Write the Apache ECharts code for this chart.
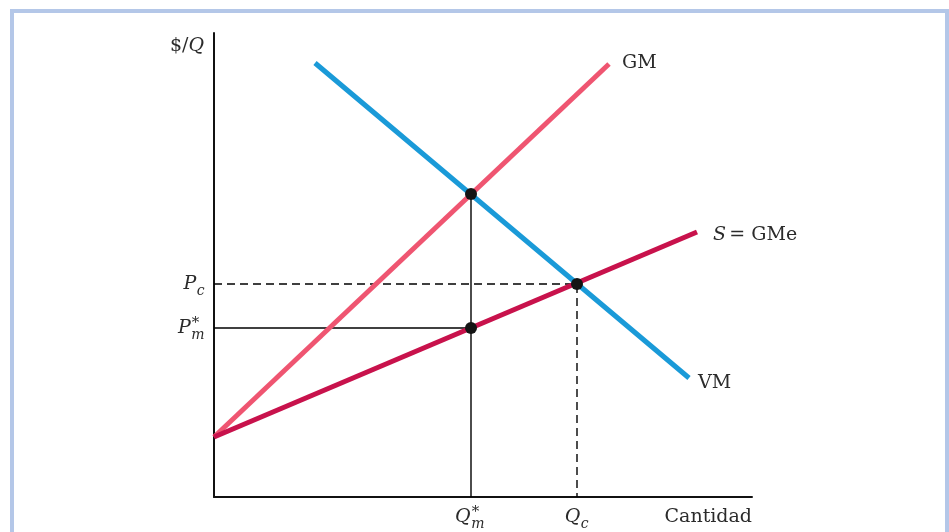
<!DOCTYPE html>
<html>
<head>
<meta charset="utf-8">
<script src="https://cdn.jsdelivr.net/npm/echarts@6/dist/echarts.min.js"></script>
<style>
html,body{margin:0;padding:0;background:#fff;}
#chart{width:949px;height:532px;}
</style>
</head>
<body>
<div id="chart"></div>
<script>
// ---- Data (axis units: quantity 0..538, price 0..464) ----
const xRange = [0, 538];
const yRange = [0, 464];
const gmLine = [[0, 60], [395, 433]];     // GM
const sLine = [[0, 60], [483, 265]];      // S = GMe
const vmLine = [[101, 434], [475, 119]];  // VM
const Qm = 257, Qc = 363;
const Pc = 213, Pm = 169, Pgm = 303;
const keyPoints = [[Qm, Pgm], [Qc, Pc], [Qm, Pm]];
const curveLabels = ['GM', 'S = GMe', 'VM'];
const axisTitles = ['$/Q', 'Cantidad'];

const FONT = '"DejaVu Serif", "Liberation Serif", serif';
const TXT = '#2b2b2b';
const FS = 19;

const chart = echarts.init(document.getElementById('chart'), null, {renderer: 'canvas'});

const lineBase = {type: 'line', symbol: 'none', silent: true, animation: false};
const option = {
  animation: false,
  backgroundColor: '#fff',
  grid: {left: 214, top: 33, width: 538, height: 464},
  xAxis: {type: 'value', min: xRange[0], max: xRange[1],
    axisLine: {show: true, lineStyle: {color: '#111', width: 2}},
    axisTick: {show: false}, axisLabel: {show: false}, splitLine: {show: false}},
  yAxis: {type: 'value', min: yRange[0], max: yRange[1],
    axisLine: {show: true, lineStyle: {color: '#111', width: 2}},
    axisTick: {show: false}, axisLabel: {show: false}, splitLine: {show: false}},
  series: [
    Object.assign({}, lineBase, {name: 'PcGuide', data: [[0, Pc], [Qc, Pc], [Qc, 0]],
      lineStyle: {color: '#000', width: 1.4, type: [8, 5]}, z: 1}),
    Object.assign({}, lineBase, {name: 'PmGuide', data: [[0, Pm], [Qm, Pm]],
      lineStyle: {color: '#000', width: 1.4}, z: 1}),
    Object.assign({}, lineBase, {name: 'QmGuide', data: [[Qm, Pgm], [Qm, 0]],
      lineStyle: {color: '#000', width: 1.4}, z: 1}),
    Object.assign({}, lineBase, {name: 'GM', data: gmLine,
      lineStyle: {color: '#ef5571', width: 5, cap: 'butt'}, z: 2}),
    Object.assign({}, lineBase, {name: 'S', data: sLine,
      lineStyle: {color: '#c8124c', width: 5, cap: 'butt'}, z: 3}),
    Object.assign({}, lineBase, {name: 'VM', data: vmLine,
      lineStyle: {color: '#1a9ad8', width: 5, cap: 'butt'}, z: 4}),
    {type: 'scatter', data: keyPoints, symbolSize: 12, silent: true, animation: false,
      itemStyle: {color: '#141414', opacity: 1}, z: 5}
  ]
};
chart.setOption(option);

// ---- Text labels placed through the chart's own scales ----
const mctx = document.createElement('canvas').getContext('2d');
function tw(t, size, it) { mctx.font = (it ? 'italic ' : '') + size + 'px ' + FONT; return mctx.measureText(t).width; }
function txt(x, y, t, size, it, align) {
  return {type: 'text', x: x, y: y, silent: true, z: 100,
    style: {text: t, fill: TXT, font: (it ? 'italic ' : '') + size + 'px ' + FONT,
      textAlign: align || 'left', textVerticalAlign: 'middle'}};
}
// math label: main letter with optional subscript / superscript
function mathLabel(x, y, main, sub, sup, align) {
  const mw = tw(main, FS, true);
  const sw = Math.max(sub ? tw(sub, 14, true) : 0, sup ? tw(sup, 15, false) : 0);
  const total = mw + sw + 1;
  let x0 = x;
  if (align === 'right') x0 = x - total;
  else if (align === 'center') x0 = x - total / 2;
  const els = [txt(x0, y, main, FS, true)];
  if (sub) els.push(txt(x0 + mw + 0.5, y + 7, sub, 14, true));
  if (sup) els.push(txt(x0 + mw + 1, y - 5, sup, 15, false));
  return els;
}

function px(p) { return chart.convertToPixel({gridIndex: 0}, p); }

const origin = px([0, 0]);
const topY = px([0, yRange[1]]);
const endX = px([xRange[1], 0]);
const gmEnd = px(gmLine[1]);
const sEnd = px(sLine[1]);
const vmEnd = px(vmLine[1]);
const pcPix = px([0, Pc]);
const pmPix = px([0, Pm]);
const qmPix = px([Qm, 0]);
const qcPix = px([Qc, 0]);

let els = [];
// frame
els.push({type: 'rect', shape: {x: 12, y: 11, width: 935, height: 600}, silent: true, z: 0,
  style: {fill: 'none', stroke: '#b4c7e8', lineWidth: 4}});
// axis titles
els.push({type: 'text', x: topY[0] - 10, y: topY[1] + 13, silent: true, z: 100,
  style: {rich: {a: {fontFamily: FONT, fontSize: FS, fill: TXT}, b: {fontFamily: FONT, fontSize: FS, fontStyle: 'italic', fill: TXT}},
    text: '{a|$/}{b|Q}', textAlign: 'right', textVerticalAlign: 'middle'}});
els.push(txt(endX[0], origin[1] + 20, axisTitles[1], FS, false, 'right'));
// curve labels
els.push(txt(gmEnd[0] + 13, gmEnd[1] - 1, curveLabels[0], FS, false));
els.push({type: 'text', x: sEnd[0] + 16, y: sEnd[1] + 3, silent: true, z: 100,
  style: {rich: {a: {fontFamily: FONT, fontSize: FS, fill: TXT}, b: {fontFamily: FONT, fontSize: FS, fontStyle: 'italic', fill: TXT}},
    text: '{b|S} {a|= GMe}', textAlign: 'left', textVerticalAlign: 'middle'}});
els.push(txt(vmEnd[0] + 9, vmEnd[1] + 5, curveLabels[2], FS, false));
// price / quantity labels
els = els.concat(mathLabel(pcPix[0] - 9, pcPix[1], 'P', 'c', null, 'right'));
els = els.concat(mathLabel(pmPix[0] - 9, pmPix[1], 'P', 'm', '*', 'right'));
els = els.concat(mathLabel(qmPix[0] - 1, qmPix[1] + 20, 'Q', 'm', '*', 'center'));
els = els.concat(mathLabel(qcPix[0], qcPix[1] + 20, 'Q', 'c', null, 'center'));

chart.setOption({graphic: {elements: els}});
</script>
</body>
</html>
